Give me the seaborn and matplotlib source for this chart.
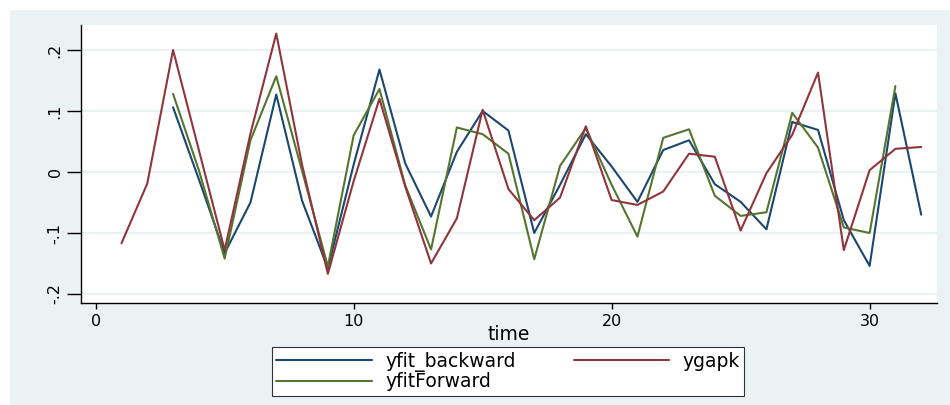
import numpy as np
import pandas as pd
import matplotlib
matplotlib.use("Agg")
import matplotlib.pyplot as plt
from matplotlib.patches import Rectangle
import seaborn as sns

# values
time = list(range(1, 33))
ygapk = [-0.117, -0.019, 0.200, 0.036, -0.128, 0.063, 0.227, 0.012, -0.167, -0.015,
         0.120, -0.024, -0.150, -0.076, 0.102, -0.028, -0.079, -0.042, 0.075, -0.046,
         -0.054, -0.032, 0.030, 0.025, -0.096, -0.002, 0.061, 0.163, -0.128, 0.003,
         0.038, 0.041]
yfit_backward = [np.nan, np.nan, 0.106, -0.012, -0.133, -0.050, 0.127, -0.047, -0.158, 0.012,
                 0.168, 0.014, -0.073, 0.033, 0.100, 0.068, -0.100, -0.021, 0.062, 0.009,
                 -0.049, 0.036, 0.052, -0.020, -0.049, -0.094, 0.082, 0.069, -0.079, -0.154,
                 0.129, -0.070]
yfitForward = [np.nan, np.nan, 0.128, 0.003, -0.142, 0.052, 0.157, 0.002, -0.155, 0.060,
               0.136, -0.022, -0.127, 0.073, 0.062, 0.030, -0.143, 0.010, 0.072, -0.021,
               -0.106, 0.056, 0.070, -0.039, -0.072, -0.066, 0.097, 0.040, -0.091, -0.100,
               0.141, np.nan]

df = pd.DataFrame({"time": time, "yfit_backward": yfit_backward,
                   "ygapk": ygapk, "yfitForward": yfitForward})

sns.set_style("white")
plt.rcParams['font.family'] = ['DejaVu Sans']
plt.rcParams['text.color'] = 'black'
plt.rcParams['axes.labelcolor'] = 'black'
plt.rcParams['xtick.color'] = 'black'
plt.rcParams['ytick.color'] = 'black'

bg = "#eaf2f3"
colors = {"yfit_backward": "#1a476f", "ygapk": "#90353b", "yfitForward": "#55752f"}

fig = plt.figure(figsize=(9.5, 4.05), dpi=100)
fig.patch.set_facecolor("white")
fig.patches.append(Rectangle((10 / 950, 0), 940 / 950, 395 / 405, transform=fig.transFigure,
                             facecolor=bg, edgecolor="none", zorder=-5))

ax = fig.add_axes([80.7 / 950, 1 - 303 / 405, 856 / 950, 278 / 405])
ax.set_facecolor("white")

for col in ["yfit_backward", "yfitForward", "ygapk"]:
    sns.lineplot(data=df, x="time", y=col, ax=ax, color=colors[col], linewidth=1.5,
                 label=col, zorder=3)

ax.set_xlim(-0.58, 32.6)
ax.set_ylim(-0.2148, 0.241)
ax.set_yticks([-0.2, -0.1, 0, 0.1, 0.2])
ax.set_yticklabels(["-.2", "-.1", "0", ".1", ".2"], rotation=90, va="center")
ax.set_xticks([0, 10, 20, 30])
ax.tick_params(axis="y", length=10, width=1, pad=3, labelsize=11.5, direction="out", left=True)
ax.tick_params(axis="x", length=4, width=1, pad=4, labelsize=11.5, direction="out", bottom=True)
ax.grid(axis="y", color=bg, linewidth=1.5, zorder=0)
ax.grid(axis="x", visible=False)

for side in ["top", "right"]:
    ax.spines[side].set_visible(False)
for side in ["left", "bottom"]:
    ax.spines[side].set_color("black")
    ax.spines[side].set_linewidth(1)

ax.set_xlabel("time", fontsize=13.5, labelpad=-3)
ax.set_ylabel("")

# legend: two columns, yfit_backward / yfitForward on the left, ygapk on the right
handles, labels = ax.get_legend_handles_labels()
ax.legend_.remove()
leg = fig.legend(handles, labels, loc="center", bbox_to_anchor=(508 / 950, 1 - 371.5 / 405),
                 bbox_transform=fig.transFigure, ncol=2, fontsize=13.5, frameon=True,
                 fancybox=False, edgecolor="#333333", framealpha=1, handlelength=5.1,
                 handletextpad=0.7, columnspacing=3.1, labelspacing=0.05, borderpad=0.25,
                 borderaxespad=0)
leg.get_frame().set_linewidth(0.8)

fig.savefig("out.png", dpi=100, facecolor=fig.get_facecolor())
